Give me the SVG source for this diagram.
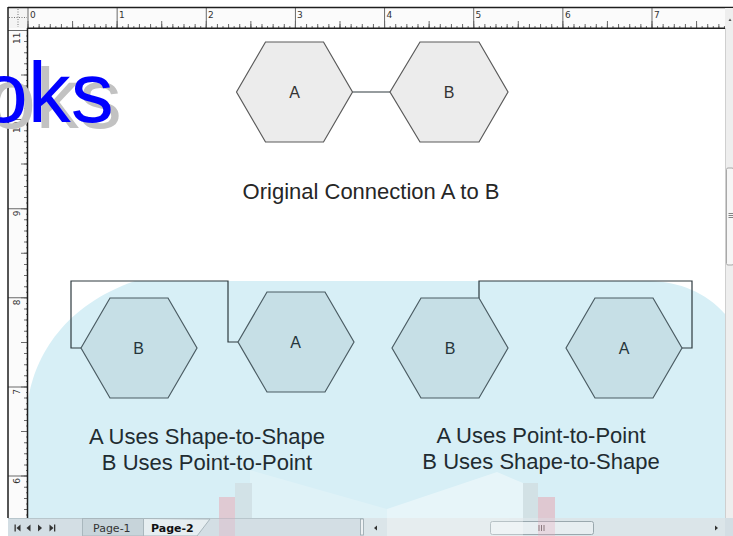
<svg xmlns="http://www.w3.org/2000/svg" width="733" height="536" viewBox="0 0 733 536">
<style>
.ui{font-family:"DejaVu Sans","Liberation Sans",sans-serif;}
.rnum{font-family:"DejaVu Sans",sans-serif;font-size:9px;fill:#333;}
.tick{fill:none;stroke:#6a6a6a;}
.hexT{fill:#ececec;stroke:#5a5a5a;stroke-width:1.2;}
.hexB{fill:#c6dfe6;stroke:#4b5c63;stroke-width:1.2;}
.lbl{font-family:"Liberation Sans",Arial,sans-serif;font-size:16px;text-anchor:middle;fill:#333;}
.lblB{fill:#25353b;}
.cap{font-family:"Liberation Sans",Arial,sans-serif;font-size:22px;text-anchor:middle;fill:#262626;}
.capB{fill:#1f2c31;}
.conn{fill:none;stroke:#2e3a3f;stroke-width:1.2;}
.tri{fill:#333;}
</style>

<rect x="0" y="0" width="733" height="536" fill="#ffffff"/>

<g id="background">
  <rect x="28" y="28" width="697" height="490" fill="#ffffff"/>
  <path d="M28 400 C35 355 65 305 135 281 L650 281 C680 282 705 292 725 314 L725 518 L28 518 Z" fill="#d7eff6"/>
  <polygon points="250,470 387,509 387,518 250,518" fill="#ffffff" opacity="0.2"/>
  <polygon points="387,509 497,472 523,483 523,518 387,518" fill="#ffffff" opacity="0.4"/>
  <rect x="235" y="483" width="17" height="35" fill="#d2e2e7"/>
  <rect x="219" y="497" width="16" height="21" fill="#e0cad3"/>
  <rect x="523" y="483" width="15" height="35" fill="#d2e1e5"/>
  <rect x="538" y="497" width="17" height="21" fill="#dfc8d1"/>
</g>

<g id="connectors">
  <path class="conn" d="M352.5 92 H390"/>
  <path class="conn" d="M81 348 H71 V281 H228 V342 H238"/>
  <path class="conn" d="M479 298 V281 H692 V348 H682"/>
</g>

<g id="node-top-A">
  <polygon class="hexT" points="236.5,92 265.5,42 323.5,42 352.5,92 323.5,142 265.5,142"/>
  <text class="lbl" x="294.5" y="97.5">A</text>
</g>
<g id="node-top-B">
  <polygon class="hexT" points="390,92 420,42 479,42 508,92 479,142 420,142"/>
  <text class="lbl" x="449" y="97.5">B</text>
</g>
<g id="caption-top">
  <text class="cap" x="371" y="199">Original Connection A to B</text>
</g>

<g id="node-left-B">
  <polygon class="hexB" points="81,348 110,298 168,298 197,348 168,398 110,398"/>
  <text class="lbl lblB" x="138.5" y="353.5">B</text>
</g>
<g id="node-left-A">
  <polygon class="hexB" points="238,342 267,292 325,292 354,342 325,392 267,392"/>
  <text class="lbl lblB" x="295.5" y="347.5">A</text>
</g>
<g id="caption-left">
  <text class="cap capB" x="207" y="444">A Uses Shape-to-Shape</text>
  <text class="cap capB" x="207" y="470">B Uses Point-to-Point</text>
</g>

<g id="node-right-B">
  <polygon class="hexB" points="392,348 421,298 479,298 508,348 479,398 421,398"/>
  <text class="lbl lblB" x="450" y="353.5">B</text>
</g>
<g id="node-right-A">
  <polygon class="hexB" points="566,348 595,298 653,298 682,348 653,398 595,398"/>
  <text class="lbl lblB" x="624" y="353.5">A</text>
</g>
<g id="caption-right">
  <text class="cap capB" x="541" y="443">A Uses Point-to-Point</text>
  <text class="cap capB" x="541" y="469">B Uses Shape-to-Shape</text>
</g>

<g id="rulers" class="ui">
  <rect x="28" y="8" width="697" height="20" fill="#fbfbfb"/>
  <rect x="8" y="28" width="20" height="490" fill="#fbfbfb"/>
  <rect x="8" y="8" width="20" height="20" fill="#f4f4f4"/>
  <path d="M18 9 V27 M9 17.5 H27" stroke="#777" stroke-width="1" stroke-dasharray="1 1.5" fill="none"/>
  <path class="tick" d="M27.5 27 H725" stroke-width="2" stroke-dasharray="1 4.5714"/>
  <path class="tick" d="M27.5 26 H725" stroke-width="4" stroke-dasharray="1 10.1428"/>
  <path class="tick" d="M27.5 24.5 H725" stroke-width="7" stroke-dasharray="1 43.571"/>
  <path class="tick" d="M27.5 18 H725" stroke-width="20" stroke-dasharray="1 88.142" stroke="#444"/>
  <text class="rnum" x="30" y="18">0</text>
  <text class="rnum" x="119" y="18">1</text>
  <text class="rnum" x="208" y="18">2</text>
  <text class="rnum" x="297" y="18">3</text>
  <text class="rnum" x="386.5" y="18">4</text>
  <text class="rnum" x="475.5" y="18">5</text>
  <text class="rnum" x="565" y="18">6</text>
  <text class="rnum" x="654" y="18">7</text>
  <path class="tick" d="M27 29.9 V518" stroke-width="2" stroke-dasharray="1 4.5714"/>
  <path class="tick" d="M26 29.9 V518" stroke-width="4" stroke-dasharray="1 10.1428"/>
  <path class="tick" d="M24.5 29.9 V518" stroke-width="7" stroke-dasharray="1 43.571"/>
  <path class="tick" d="M18 29.9 V518" stroke-width="20" stroke-dasharray="1 88.142" stroke="#444"/>
  <text class="rnum" text-anchor="end" transform="translate(19.5 32.5) rotate(-90)">11</text>
  <text class="rnum" text-anchor="end" transform="translate(19.5 121.5) rotate(-90)">10</text>
  <text class="rnum" text-anchor="end" transform="translate(19.5 210.5) rotate(-90)">9</text>
  <text class="rnum" text-anchor="end" transform="translate(19.5 299.5) rotate(-90)">8</text>
  <text class="rnum" text-anchor="end" transform="translate(19.5 389) rotate(-90)">7</text>
  <text class="rnum" text-anchor="end" transform="translate(19.5 478) rotate(-90)">6</text>
  <path d="M8 7.5 H733 M8 7 V518 M27.5 28 V518 M27.5 28.2 H725" stroke="#1e1e1e" stroke-width="1.5" fill="none"/>
</g>

<g id="vscroll" class="ui">
  <rect x="725" y="8" width="8" height="510" fill="#eeeeee"/>
  <path d="M725.5 28 V518" stroke="#cfcfcf" stroke-width="1"/>
  <polygon points="728.5,21 731.5,21 730,18.5" fill="#555"/>
  <rect x="726.5" y="168" width="7" height="97" rx="1.5" fill="#f6f6f6" stroke="#a8a8a8" stroke-width="1"/>
  <path d="M728.5 213.5 H733 M728.5 215.5 H733 M728.5 217.5 H733" stroke="#666" stroke-width="0.8"/>
</g>

<g id="tabbar" class="ui">
  <rect x="8" y="518" width="725" height="18" fill="#d3dee4"/>
  <path d="M8 518.5 H363" stroke="#b8c6cc" stroke-width="1"/>
  <rect x="14.5" y="524.5" width="1.3" height="7" class="tri"/>
  <polygon class="tri" points="20.5,524.5 20.5,531.5 16.5,528"/>
  <polygon class="tri" points="30.5,524.5 30.5,531.5 26.5,528"/>
  <polygon class="tri" points="38,524.5 38,531.5 42,528"/>
  <polygon class="tri" points="49.5,524.5 49.5,531.5 53.5,528"/>
  <rect x="54" y="524.5" width="1.3" height="7" class="tri"/>
  <rect x="82.5" y="518.5" width="61" height="17.5" fill="#c7d4da" stroke="#a9b7bd" stroke-width="1"/>
  <text x="93" y="531.5" font-size="11" fill="#333">Page-1</text>
  <polygon points="143.5,518.5 143.5,536 197,536 210,519" fill="#e6eef1" stroke="#a9b7bd" stroke-width="1"/>
  <text x="151" y="531.5" font-size="11" font-weight="bold" fill="#111">Page-2</text>
  <rect x="360.5" y="519" width="3" height="16" fill="#eef2f4" stroke="#98a6ac" stroke-width="0.8"/>
</g>

<g id="hscroll" class="ui">
  <rect x="364" y="518" width="361" height="18" fill="#dbe5e9"/>
  <polygon class="tri" points="377,525.5 377,530.5 374,528" fill="#555"/>
  <rect x="490.5" y="521.5" width="103" height="13" rx="2" fill="#e7eef1" stroke="#9aa8ae" stroke-width="1"/>
  <path d="M539 525 V531 M541.5 525 V531 M544 525 V531" stroke="#555" stroke-width="0.9"/>
  <polygon class="tri" points="715,525.5 715,530.5 718,528" fill="#555"/>
</g>

<g id="overlay" opacity="0.3">
  <rect x="219" y="518" width="16" height="18" fill="#e8a7bb"/>
  <rect x="538" y="518" width="17" height="18" fill="#e8a7bb"/>
  <polygon points="387,518 523,518 523,536 387,536" fill="#ffffff"/>
</g>

<g id="title-fragment">
  <text x="-12" y="128" font-family="'Liberation Sans',Arial,sans-serif" font-size="86" fill="#c2c2c2">oks</text>
  <text x="-20" y="122" font-family="'Liberation Sans',Arial,sans-serif" font-size="86" fill="#0000ff">oks</text>
</g>
</svg>
